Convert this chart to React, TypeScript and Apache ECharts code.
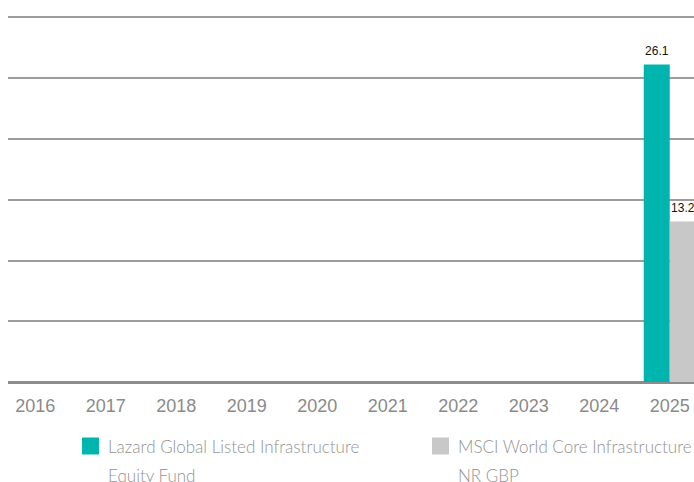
import React, { useEffect, useRef } from "react";
import * as echarts from "echarts";

const years = ["2016", "2017", "2018", "2019", "2020", "2021", "2022", "2023", "2024", "2025"];
const fundName = "Lazard Global Listed Infrastructure\nEquity Fund";
const indexName = "MSCI World Core Infrastructure\nNR GBP";
const fundValues: (number | null)[] = [null, null, null, null, null, null, null, null, null, 26.1];
const indexValues: (number | null)[] = [null, null, null, null, null, null, null, null, null, 13.2];

const TEAL = "#00b5ad";
const GREY = "#c8c8c8";

export default function App() {
  const ref = useRef<HTMLDivElement>(null);
  useEffect(() => {
    if (!ref.current) return;
    const chart = echarts.init(ref.current, undefined, { renderer: "svg" });
    const font = {
      fontFamily: "Lato, 'Liberation Sans', Arial, sans-serif",
      fontWeight: 300,
      fontSize: 17,
      color: "#939393",
      lineHeight: 29,
    };
    const legendCommon = {
      top: 402.5,
      padding: 0,
      itemWidth: 17,
      itemHeight: 17,
      itemGap: 10,
      icon: "rect",
      textStyle: { ...font, rich: { t: { ...font, padding: [0, 0, 0, 4] } } },
      formatter: (name: string) =>
        "\n" + name.split("\n").map((l) => "{t|" + l + "}").join("\n"),
    };
    chart.setOption({
      animation: false,
      grid: { left: 0, top: 17, width: 705, height: 365, containLabel: false },
      legend: [
        { ...legendCommon, data: [fundName], left: 82 },
        { ...legendCommon, data: [indexName], left: 432 },
      ],
      xAxis: {
        type: "category",
        data: years,
        axisTick: { show: false },
        axisLine: { lineStyle: { color: "#8c8c8c", width: 3 } },
        axisLabel: {
          fontFamily: "'Liberation Sans', Arial, sans-serif",
          fontSize: 18,
          color: "#8a8a8a",
          margin: 15,
        },
      },
      yAxis: {
        type: "value",
        min: 0,
        max: 30,
        interval: 5,
        axisLabel: { show: false },
        axisLine: { show: false },
        axisTick: { show: false },
        splitLine: { lineStyle: { color: "#9c9c9c", width: 2 } },
      },
      series: [
        {
          name: fundName,
          type: "bar",
          data: fundValues,
          barWidth: 26,
          barGap: "0%",
          itemStyle: { color: TEAL },
          label: {
            show: true,
            position: "top",
            distance: 7,
            color: "#111",
            fontSize: 12,
            fontFamily: "'Liberation Sans', Arial, sans-serif",
          },
        },
        {
          name: indexName,
          type: "bar",
          data: indexValues,
          barWidth: 26,
          barGap: "0%",
          itemStyle: { color: GREY },
          label: {
            show: true,
            position: "top",
            distance: 7,
            color: "#111",
            fontSize: 12,
            fontFamily: "'Liberation Sans', Arial, sans-serif",
          },
        },
      ],
      graphic: [
        {
          type: "rect",
          left: 0,
          top: 0,
          shape: { width: 8, height: 390 },
          style: { fill: "#fff" },
          z: 100,
        },
      ],
    });
    return () => chart.dispose();
  }, []);
  return (
    <div style={{ position: "fixed", left: 0, top: 0, width: 694, height: 482, overflow: "hidden", background: "#fff" }}>
      <div ref={ref} style={{ width: 720, height: 482 }} />
    </div>
  );
}
